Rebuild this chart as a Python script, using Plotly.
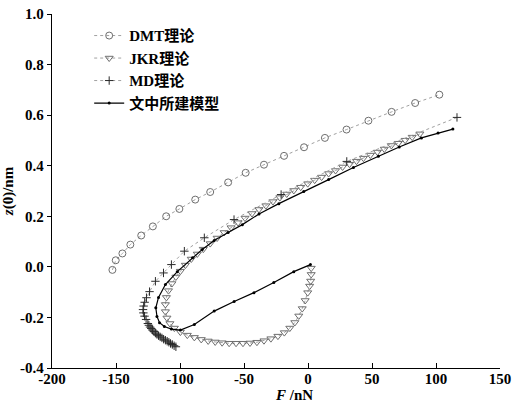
import plotly.graph_objects as go

# ---------------- data ----------------
dmt_F = [-152.8, -150.2, -145.0, -138.8, -130.3, -121.2, -110.8, -100.5, -88.1, -76.4,
         -62.4, -48.7, -34.4, -18.7, -3.1, 13.2, 30.1, 47.2, 65.3, 83.7, 102.6]
dmt_z = [-0.012, 0.026, 0.053, 0.088, 0.124, 0.160, 0.200, 0.229, 0.266, 0.296,
         0.334, 0.372, 0.404, 0.439, 0.473, 0.510, 0.543, 0.578, 0.613, 0.648, 0.681]

jkr_F = [87.4, 81.4, 75.9, 70.5, 65.1, 59.6, 54.2, 48.7, 43.3, 37.9, 32.4, 27.0, 21.5, 16.1,
         10.6, 5.2, -0.2, -5.7, -11.1, -16.6, -22.0, -27.4, -32.9, -38.3, -43.8, -49.2, -54.6,
         -60.1, -65.5, -71.0, -76.4, -81.8, -86.5, -91.2, -95.8, -99.7, -103.2, -106.3, -109.0,
         -110.6, -111.4, -111.4, -110.2, -107.9, -104.4, -99.7, -94.3, -88.8, -83.4, -78.0,
         -72.5, -67.1, -61.6, -56.2, -50.8, -45.3, -39.9, -34.4, -29.0, -23.5, -18.5, -14.2,
         -10.3, -7.2, -4.5, -2.2, -0.2, 1.3, 2.1, 2.5, 2.5]
jkr_z = [0.526, 0.513, 0.501, 0.489, 0.480, 0.466, 0.454, 0.442, 0.430, 0.418, 0.406, 0.395,
         0.381, 0.369, 0.355, 0.343, 0.329, 0.315, 0.302, 0.288, 0.274, 0.258, 0.242, 0.227,
         0.211, 0.193, 0.175, 0.155, 0.136, 0.114, 0.092, 0.070, 0.051, 0.031, 0.007, -0.017,
         -0.040, -0.066, -0.094, -0.121, -0.149, -0.177, -0.202, -0.224, -0.242, -0.258, -0.270,
         -0.279, -0.287, -0.293, -0.297, -0.300, -0.302, -0.302, -0.302, -0.301, -0.298, -0.292,
         -0.284, -0.274, -0.260, -0.242, -0.220, -0.194, -0.165, -0.133, -0.102, -0.076, -0.056,
         -0.030, -0.005]

md_F = [116.4, 30.3, -21.0, -57.8, -81.0, -96.6, -106.7, -112.9, -119.2, -123.8, -126.2,
        -127.6, -128.4, -128.9, -128.6, -127.7, -126.5, -125.1, -124.3, -123.4, -122.5, -121.5,
        -120.4, -119.2, -118.0, -116.8, -115.5, -114.1, -112.8, -111.4, -110.0, -108.7, -107.4,
        -106.0, -104.6, -103.2]
md_z = [0.591, 0.417, 0.286, 0.187, 0.115, 0.062, 0.009, -0.024, -0.057, -0.098, -0.122,
        -0.140, -0.155, -0.169, -0.182, -0.195, -0.208, -0.224, -0.231, -0.238, -0.244, -0.250,
        -0.256, -0.262, -0.267, -0.272, -0.277, -0.281, -0.286, -0.290, -0.294, -0.298, -0.303,
        -0.307, -0.312, -0.316]

model_F = [113.2, 101.6, 88.6, 71.3, 55.0, 35.5, 16.1, -3.3, -22.8, -38.3, -51.3, -62.4, -73.3,
           -82.6, -90.2, -102.1, -111.4, -116.8, -118.9, -118.0, -116.0, -112.2, -106.7, -99.7,
           -88.8, -73.3, -57.7, -42.2, -26.7, -11.1, 1.9]
model_z = [0.545, 0.529, 0.510, 0.474, 0.437, 0.393, 0.345, 0.298, 0.250, 0.209, 0.167, 0.136,
           0.104, 0.069, 0.036, -0.019, -0.070, -0.121, -0.162, -0.196, -0.221, -0.236, -0.246,
           -0.250, -0.228, -0.175, -0.137, -0.102, -0.062, -0.019, 0.009]

x_ticks = [-200, -150, -100, -50, 0, 50, 100, 150]
y_ticks = [1.0, 0.8, 0.6, 0.4, 0.2, 0.0, -0.2, -0.4]
names = ["DMT理论", "JKR理论", "MD理论", "文中所建模型"]

FONT = "Liberation Serif, 'Times New Roman', 'Noto Sans CJK SC', serif"

fig = go.Figure()
fig.add_trace(go.Scatter(
    x=dmt_F, y=dmt_z, mode="lines+markers", name=names[0],
    line=dict(color="#a0a0a0", width=1, dash="dot"),
    marker=dict(symbol="circle-open", size=7, color="#6e6e6e", line=dict(width=1))))
fig.add_trace(go.Scatter(
    x=jkr_F, y=jkr_z, mode="lines+markers", name=names[1],
    line=dict(color="#a0a0a0", width=1, dash="dot"),
    marker=dict(symbol="triangle-down-open", size=7, color="#6e6e6e", line=dict(width=1))))
fig.add_trace(go.Scatter(
    x=md_F, y=md_z, mode="lines+markers", name=names[2],
    line=dict(color="#a0a0a0", width=1, dash="dot"),
    marker=dict(symbol="cross-thin-open", size=6, color="#2a2a2a", line=dict(width=1))))
fig.add_trace(go.Scatter(
    x=model_F, y=model_z, mode="lines+markers", name=names[3],
    line=dict(color="black", width=1.2),
    marker=dict(symbol="circle", size=3, color="black")))

fig.update_layout(
    width=516, height=404,
    margin=dict(l=52, r=16, t=14, b=36),
    paper_bgcolor="white", plot_bgcolor="white",
    font=dict(family=FONT, color="black"),
    showlegend=True,
    legend=dict(x=0.083, y=0.985, xanchor="left", yanchor="top",
                bgcolor="rgba(0,0,0,0)",
                font=dict(family=FONT, size=15, color="black", weight="bold"),
                itemwidth=30, tracegroupgap=0),
    xaxis=dict(range=[-200, 150], tickvals=x_ticks, ticktext=[str(v) for v in x_ticks],
               automargin=False, ticklabelstandoff=-3,
               showgrid=False, zeroline=False, showline=True, linecolor="black", linewidth=1.3,
               ticks="inside", ticklen=5, tickcolor="black",
               tickfont=dict(family=FONT, size=15, color="black", weight="bold")),
    yaxis=dict(range=[-0.4, 1.0], tickvals=y_ticks, ticktext=[f"{v:.1f}" for v in y_ticks],
               automargin=False,
               showgrid=False, zeroline=False, showline=True, linecolor="black", linewidth=1.3,
               ticks="outside", ticklen=4, tickcolor="black",
               tickfont=dict(family=FONT, size=15, color="black", weight="bold"),
               title=dict(text="<i>z</i>(0)/nm", standoff=2,
                          font=dict(family=FONT, size=15, color="black", weight="bold"))),
)
fig.add_annotation(text="<i>F</i> /nN", xref="paper", yref="paper", x=0.54, y=-0.077,
                   xanchor="center", yanchor="middle", showarrow=False,
                   font=dict(family=FONT, size=15, color="black", weight="bold"))

fig.write_html("out.html")
